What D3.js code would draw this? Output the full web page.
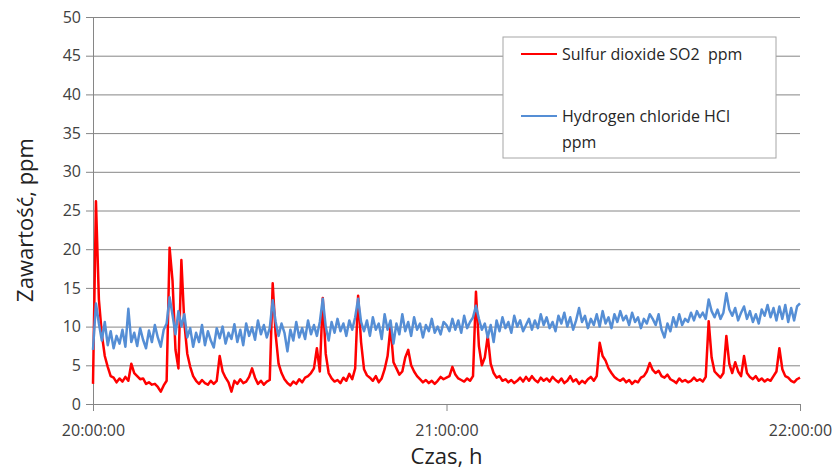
<!DOCTYPE html>
<html>
<head>
<meta charset="utf-8">
<script src="https://cdn.jsdelivr.net/npm/d3@7"></script>
<style>
  body { margin: 0; background: #fff; }
  svg { font-family: "Open Sans", sans-serif; }
  .legend text { white-space: pre; }
</style>
</head>
<body>
<div id="chart"></div>
<script>
// readings every 30 s from 20:00:00 to 22:00:00
const startTime = "20:00:00";
const stepSeconds = 30;
const tickLabels = ["20:00:00", "21:00:00", "22:00:00"];
const yTicks = [0, 5, 10, 15, 20, 25, 30, 35, 40, 45, 50];
const seriesNames = ["Sulfur dioxide SO2  ppm", "Hydrogen chloride HCl ppm"];

const so2 = [
  2.6, 26.2, 13.5, 9.0, 6.2, 4.8, 3.6, 3.4, 2.8, 3.3,
  2.9, 3.5, 3.0, 5.2, 4.0, 3.6, 3.2, 3.3, 2.6, 2.8,
  2.5, 2.6, 2.2, 1.6, 2.4, 3.0, 20.2, 15.9, 7.0, 4.6,
  18.6, 10.5, 6.5, 4.8, 3.6, 3.0, 2.6, 3.1, 2.7, 2.5,
  3.0, 2.6, 3.0, 6.2, 4.2, 3.4, 2.8, 1.6, 3.0, 2.6,
  3.2, 2.7, 2.9, 3.5, 4.6, 3.4, 2.6, 3.0, 2.5, 2.9,
  3.1, 15.6, 9.0, 5.2, 4.0, 3.2, 2.7, 2.4, 2.9, 2.6,
  3.2, 2.8, 3.4, 3.6, 4.0, 4.6, 7.2, 4.2, 13.7, 6.5,
  4.0, 3.3, 2.9, 3.1, 2.7, 3.4, 3.0, 3.9, 3.2, 4.6,
  14.0, 8.0, 4.5, 3.7, 3.4, 3.0, 3.6, 2.8, 3.3, 4.5,
  6.2, 10.0, 5.4, 4.6, 3.8, 4.2, 6.0, 7.0, 5.0, 4.2,
  3.6, 3.2, 2.8, 3.1, 2.7, 3.0, 2.6, 3.0, 3.5, 3.2,
  3.4, 3.6, 4.8, 3.8, 3.3, 3.1, 2.9, 3.3, 3.0, 3.6,
  14.5, 7.5, 5.0, 6.0, 8.8, 5.2, 4.0, 3.4, 3.6, 3.0,
  3.2, 2.8, 3.1, 2.7, 3.0, 3.4, 2.9, 3.5, 3.0, 3.6,
  3.1, 2.8, 3.4, 3.0, 3.3, 2.9, 3.5, 3.1, 2.8, 3.3,
  2.7, 3.0, 3.6, 2.9, 3.2, 2.6, 3.0, 2.7, 3.2, 3.5,
  3.0, 3.6, 7.9, 6.2, 5.6, 4.6, 4.0, 3.5, 3.2, 3.0,
  3.3, 2.8, 3.1, 2.6, 3.0, 2.8, 3.4, 3.6, 4.2, 5.3,
  4.4, 4.0, 4.3, 3.6, 3.4, 3.8, 3.2, 3.0, 2.7, 3.3,
  2.9, 3.1, 2.8, 3.0, 3.4, 3.0, 3.2, 2.9, 3.5, 10.7,
  6.0, 4.2, 3.8, 3.4, 4.0, 8.8, 5.2, 4.0, 5.4, 4.2,
  3.6, 6.2, 4.0, 3.5, 3.2, 3.6, 3.0, 3.3, 2.9, 3.2,
  3.0, 3.6, 4.2, 7.2, 4.5, 3.6, 3.4, 3.0, 2.8, 3.2,
  3.4
];

const hcl = [
  7.0, 13.0, 10.4, 8.2, 10.6, 7.6, 9.4, 7.2, 8.8, 7.8,
  9.6, 7.4, 12.3, 8.0, 9.2, 7.5, 9.8, 8.3, 7.2, 9.5,
  8.0, 10.2, 8.6, 7.4, 9.6, 10.4, 13.8, 11.5, 9.0, 12.0,
  10.0, 11.6, 8.6, 9.8, 7.4, 9.2, 8.0, 10.2, 7.6, 9.4,
  8.2, 7.3, 9.8, 8.5, 10.0, 7.8, 9.2, 8.4, 10.3, 8.0,
  9.6, 7.6, 10.4, 8.8, 9.9, 8.3, 10.8, 9.0, 10.2, 8.6,
  9.8, 13.4, 10.6, 8.8, 10.4, 9.2, 6.8, 9.6, 8.2, 10.6,
  8.6, 9.8, 8.4, 10.8, 9.0, 10.2, 8.8, 10.6, 13.6, 10.0,
  8.2, 10.6, 9.2, 11.0, 9.4, 10.4, 8.8, 10.8, 9.6, 11.2,
  13.6, 10.6, 9.4, 10.8, 8.8, 11.2, 9.6, 10.4, 8.4, 11.6,
  9.6, 10.8, 7.8, 10.4, 9.0, 11.6, 9.4, 10.6, 8.8, 11.2,
  9.6, 10.4, 8.6, 10.2, 9.4, 11.0, 9.2, 10.0, 9.0, 10.6,
  10.2, 9.4, 11.0, 9.6, 10.8, 9.2, 11.4, 9.8, 10.6, 11.2,
  12.7, 11.0, 9.6, 10.4, 8.6, 10.2, 8.0, 10.8, 9.4, 11.2,
  9.8, 10.6, 9.2, 11.4, 10.0, 10.8, 9.4, 10.2, 11.0, 9.6,
  10.8, 9.8, 11.6, 10.2, 11.2, 9.8, 10.6, 9.4, 11.4, 10.4,
  11.8, 10.0, 11.2, 9.6, 10.8, 12.4, 10.6, 11.4, 9.8, 11.0,
  10.2, 11.6, 10.0, 12.0, 10.4, 11.2, 9.8, 11.6, 10.6, 12.0,
  10.8, 11.4, 10.2, 11.8, 10.6, 11.2, 9.8, 11.0, 10.4, 11.6,
  11.0, 10.2, 11.6, 9.6, 8.6, 10.4, 9.4, 11.2, 10.0, 11.6,
  10.2, 11.0, 10.6, 11.8, 10.8, 12.0, 11.2, 11.8, 11.0, 13.5,
  12.0, 11.2, 12.2, 11.0, 11.8, 14.3, 12.2, 11.4, 12.4, 10.8,
  11.8, 12.6, 11.0, 12.0, 10.6, 11.6, 10.4, 12.2, 11.4, 12.8,
  11.2, 12.4, 10.8, 12.6, 11.0, 12.8, 10.6, 12.4, 10.8, 12.6,
  13.0
];

const W = 840, H = 476;
const margin = {top: 17, right: 40, bottom: 72, left: 93};
const width = 800 - margin.left, height = 404 - margin.top;

const parse = d3.timeParse("%H:%M:%S");
const t0 = parse(startTime);
const timeAt = i => new Date(t0.getTime() + i * stepSeconds * 1000);

const x = d3.scaleTime()
  .domain([parse(tickLabels[0]), parse(tickLabels[tickLabels.length - 1])])
  .range([0, width]);
const y = d3.scaleLinear().domain([0, 50]).range([height, 0]);

const svg = d3.select("#chart").append("svg")
  .attr("width", W).attr("height", H);
const g = svg.append("g").attr("transform", `translate(${margin.left},${margin.top})`);

// horizontal gridlines + y axis
const yAxis = g.append("g")
  .call(d3.axisLeft(y).tickValues(yTicks).tickSize(-width).tickSizeOuter(0).tickPadding(12));
yAxis.select(".domain").attr("stroke", "#868686");
yAxis.selectAll(".tick line").attr("stroke", "#868686").attr("x1", -7);
yAxis.selectAll(".tick text").attr("font-size", 16).attr("fill", "#404040")
  .attr("font-family", "Open Sans, sans-serif");

// x axis
const xAxis = g.append("g").attr("transform", `translate(0,${height})`)
  .call(d3.axisBottom(x).tickValues(tickLabels.map(parse))
    .tickFormat(d3.timeFormat("%H:%M:%S")).tickSize(7).tickSizeOuter(0).tickPadding(14));
xAxis.select(".domain").attr("stroke", "#868686");
xAxis.selectAll(".tick line").attr("stroke", "#868686");
xAxis.selectAll(".tick text").attr("font-size", 16).attr("fill", "#404040")
  .attr("font-family", "Open Sans, sans-serif");

const line = d3.line()
  .x((d, i) => x(timeAt(i)))
  .y(d => y(d));

g.append("path").datum(so2)
  .attr("fill", "none").attr("stroke", "#ff0000").attr("stroke-width", 2.5)
  .attr("stroke-linejoin", "round").attr("d", line);
g.append("path").datum(hcl)
  .attr("fill", "none").attr("stroke", "#558ed5").attr("stroke-width", 2.5)
  .attr("stroke-linejoin", "round").attr("d", line);

// axis titles
svg.append("text")
  .attr("x", margin.left + width / 2).attr("y", 464)
  .attr("text-anchor", "middle").attr("font-size", 22).attr("fill", "#222")
  .text("Czas, h");
svg.append("text")
  .attr("transform", "translate(33,220) rotate(-90)")
  .attr("text-anchor", "middle").attr("font-size", 22).attr("fill", "#222")
  .text("Zawartość, ppm");

// legend
const legend = svg.append("g").attr("class", "legend").attr("transform", "translate(503,37)");
legend.append("rect").attr("width", 273).attr("height", 121)
  .attr("fill", "#fff").attr("stroke", "#a6a6a6");
const colors = ["#ff0000", "#558ed5"];
const rows = [[seriesNames[0]], ["Hydrogen chloride HCl", "ppm"]];
rows.forEach((lines, k) => {
  const ly = 17 + k * 62;
  legend.append("line").attr("x1", 18).attr("x2", 54).attr("y1", ly).attr("y2", ly)
    .attr("stroke", colors[k]).attr("stroke-width", 2);
  lines.forEach((s, j) => {
    legend.append("text").attr("x", 59).attr("y", ly + 6 + j * 26)
      .attr("font-size", 16).attr("fill", "#262626").text(s);
  });
});
</script>
</body>
</html>
